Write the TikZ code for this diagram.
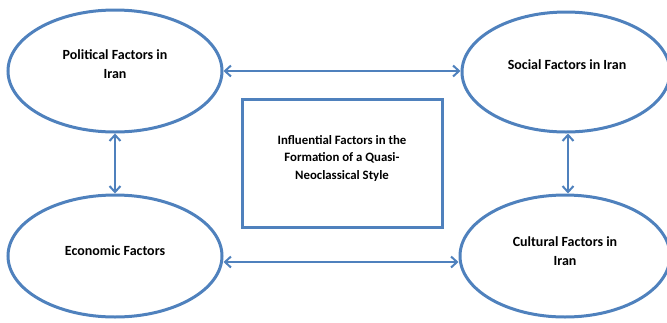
\documentclass[tikz,border=0pt]{standalone}
\usepackage{fontspec}
\setmainfont{Carlito}
\usetikzlibrary{arrows.meta,shapes.geometric}
\definecolor{ob}{RGB}{79,129,189}
\tikzset{
  oval/.style={draw=ob, line width=3pt, ellipse, inner sep=0pt, minimum width=214pt, minimum height=122pt},
  ovaltext/.style={align=center, inner sep=0pt, font=\bfseries\fontsize{14}{19}\selectfont},
  mainbox/.style={draw=ob, line width=3pt, inner sep=0pt, minimum width=200pt, minimum height=128pt},
  boxtext/.style={align=center, inner sep=0pt, font=\bfseries\fontsize{12.8}{17.5}\selectfont},
  link/.style={draw=ob, line width=2pt, {Straight Barb[length=6pt,width=11pt]}-{Straight Barb[length=6pt,width=11pt]}}
}
\begin{document}
\begin{tikzpicture}[x=1pt,y=-1pt]
\useasboundingbox (0,0) rectangle (667,322);
\node[oval] (pol) at (115,71) {};
\node[oval, minimum width=208pt, minimum height=120pt] (soc) at (566,72) {};
\node[oval] (eco) at (115,256) {};
\node[oval, minimum width=210pt] (cul) at (565,256) {};
\node[mainbox] (box) at (342,163) {};
\node[ovaltext] (polt) at (115,64.5) {Political Factors in\\Iran};
\node[ovaltext] (soct) at (567,65) {Social Factors in Iran};
\node[ovaltext] (ecot) at (115,251) {Economic Factors};
\node[ovaltext] (cult) at (565,251.5) {Cultural Factors in\\Iran};
\node[boxtext] (boxt) at (342,158.5) {Influential Factors in the\\Formation of a Quasi-\\Neoclassical Style};
\draw[link] (pol.east) -- (soc.west |- pol.east);
\draw[link] (eco.east |- 0,262) -- (cul.west |- 0,262);
\draw[link] (pol.south) -- (eco.north);
\draw[link] (soc.south -| 568,0) -- (cul.north -| 568,0);
\end{tikzpicture}
\end{document}
